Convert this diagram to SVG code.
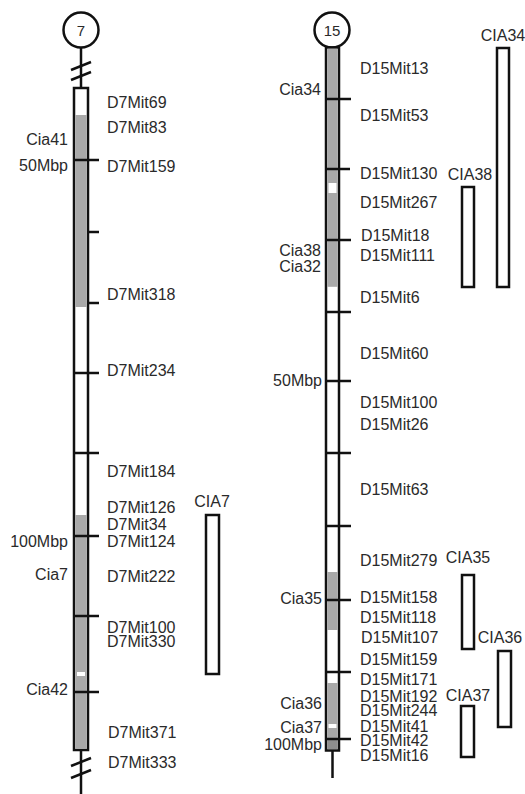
<svg xmlns="http://www.w3.org/2000/svg" width="525" height="794" viewBox="0 0 525 794">
<style>
.ln{stroke:#111;stroke-width:2.5;fill:none}
.bx{stroke:#111;stroke-width:2.5;fill:#fff}
.gr{fill:#a9a9a9;stroke:none}
.wg{fill:#fff;stroke:none}
text{font-family:"Liberation Sans",Arial,sans-serif;font-size:16px;fill:#2a2a2a}
.r{text-anchor:end}
.m{text-anchor:middle}
</style>
<rect width="525" height="794" fill="#fff"/>
<g id="chr7">
<circle cx="81" cy="30" r="17.5" class="bx"/>
<text x="81" y="36" class="m" style="font-size:15px">7</text>
<line x1="81" y1="48" x2="81" y2="88" class="ln"/>
<line x1="71" y1="70" x2="91" y2="62" class="ln"/>
<line x1="71" y1="80" x2="91" y2="72" class="ln"/>
<rect x="74" y="88" width="14" height="662" class="bx"/>
<rect x="75.3" y="115" width="11.4" height="192" class="gr"/>
<rect x="75.3" y="515" width="11.4" height="234" class="gr"/>
<rect x="77" y="672" width="8" height="4" class="wg"/>
<line x1="74" y1="160" x2="99" y2="160" class="ln"/>
<line x1="88" y1="232" x2="99" y2="232" class="ln"/>
<line x1="88" y1="303" x2="99" y2="303" class="ln"/>
<line x1="74" y1="373" x2="99" y2="373" class="ln"/>
<line x1="74" y1="453" x2="99" y2="453" class="ln"/>
<line x1="74" y1="536" x2="99" y2="536" class="ln"/>
<line x1="74" y1="616" x2="99" y2="616" class="ln"/>
<line x1="74" y1="692" x2="99" y2="692" class="ln"/>
<line x1="81" y1="750" x2="81" y2="794" class="ln"/>
<line x1="71" y1="766" x2="91" y2="758" class="ln"/>
<line x1="71" y1="778" x2="91" y2="770" class="ln"/>
<text x="68" y="145" class="r">Cia41</text>
<text x="68" y="171" class="r">50Mbp</text>
<text x="68" y="547" class="r">100Mbp</text>
<text x="68" y="580" class="r">Cia7</text>
<text x="68" y="695" class="r">Cia42</text>
<text x="107" y="108">D7Mit69</text>
<text x="107" y="133">D7Mit83</text>
<text x="107" y="172">D7Mit159</text>
<text x="107" y="300">D7Mit318</text>
<text x="107" y="376">D7Mit234</text>
<text x="107" y="477">D7Mit184</text>
<text x="107" y="513">D7Mit126</text>
<text x="107" y="530">D7Mit34</text>
<text x="107" y="547">D7Mit124</text>
<text x="107" y="582">D7Mit222</text>
<text x="107" y="633">D7Mit100</text>
<text x="107" y="647">D7Mit330</text>
<text x="108" y="738">D7Mit371</text>
<text x="108" y="768">D7Mit333</text>
</g>
<g id="qtl7">
<text x="212" y="507" class="m">CIA7</text>
<rect x="206" y="515" width="13" height="159" class="bx"/>
</g>
<g id="chr15">
<circle cx="332" cy="30" r="17.5" class="bx"/>
<text x="332" y="36" class="m" style="font-size:15px">15</text>
<rect x="326" y="47.5" width="13" height="703" class="bx"/>
<rect x="327.3" y="48.8" width="10.4" height="238" class="gr"/>
<rect x="328.5" y="183" width="8" height="10" class="wg"/>
<rect x="327.3" y="572" width="10.4" height="58" class="gr"/>
<rect x="327.3" y="683" width="10.4" height="66" class="gr"/>
<rect x="328.5" y="724" width="8" height="4" class="wg"/>
<rect x="327.3" y="739" width="10.4" height="10" fill="#8e8e8e"/>
<line x1="326" y1="99" x2="351" y2="99" class="ln"/>
<line x1="326" y1="169" x2="350" y2="169" class="ln"/>
<line x1="326" y1="240" x2="351" y2="240" class="ln"/>
<line x1="326" y1="312" x2="351" y2="312" class="ln"/>
<line x1="326" y1="381" x2="351" y2="381" class="ln"/>
<line x1="326" y1="453" x2="351" y2="453" class="ln"/>
<line x1="326" y1="526" x2="351" y2="526" class="ln"/>
<line x1="326" y1="600" x2="351" y2="600" class="ln"/>
<line x1="326" y1="672" x2="351" y2="672" class="ln"/>
<line x1="326" y1="739" x2="351" y2="739" class="ln"/>
<line x1="332.5" y1="751" x2="332.5" y2="778" class="ln"/>
<text x="321" y="95" class="r">Cia34</text>
<text x="321" y="256" class="r">Cia38</text>
<text x="321" y="272" class="r">Cia32</text>
<text x="322" y="386" class="r">50Mbp</text>
<text x="322" y="604" class="r">Cia35</text>
<text x="322" y="709" class="r">Cia36</text>
<text x="322" y="733" class="r">Cia37</text>
<text x="322" y="750" class="r">100Mbp</text>
<text x="360" y="74">D15Mit13</text>
<text x="360" y="121">D15Mit53</text>
<text x="360" y="179">D15Mit130</text>
<text x="360" y="208">D15Mit267</text>
<text x="361" y="241">D15Mit18</text>
<text x="360" y="261">D15Mit111</text>
<text x="360" y="303">D15Mit6</text>
<text x="360" y="359">D15Mit60</text>
<text x="360" y="408">D15Mit100</text>
<text x="360" y="430">D15Mit26</text>
<text x="360" y="495">D15Mit63</text>
<text x="360" y="566">D15Mit279</text>
<text x="360" y="603">D15Mit158</text>
<text x="360" y="623">D15Mit118</text>
<text x="361" y="643">D15Mit107</text>
<text x="360" y="665">D15Mit159</text>
<text x="360" y="685">D15Mit171</text>
<text x="360" y="702">D15Mit192</text>
<text x="360" y="716">D15Mit244</text>
<text x="360" y="732">D15Mit41</text>
<text x="360" y="746">D15Mit42</text>
<text x="360" y="761">D15Mit16</text>
</g>
<g id="qtl34">
<text x="503" y="41" class="m">CIA34</text>
<rect x="497" y="48" width="12" height="239" class="bx"/>
</g>
<g id="qtl38">
<text x="470" y="180" class="m">CIA38</text>
<rect x="462" y="187" width="12" height="100" class="bx"/>
</g>
<g id="qtl35">
<text x="468" y="563" class="m">CIA35</text>
<rect x="462" y="575" width="12" height="74" class="bx"/>
</g>
<g id="qtl36">
<text x="500" y="643" class="m">CIA36</text>
<rect x="498" y="651" width="13" height="76" class="bx"/>
</g>
<g id="qtl37">
<text x="468" y="701" class="m">CIA37</text>
<rect x="461" y="706" width="13" height="51" class="bx"/>
</g>
<g id="connectors"></g>
</svg>
